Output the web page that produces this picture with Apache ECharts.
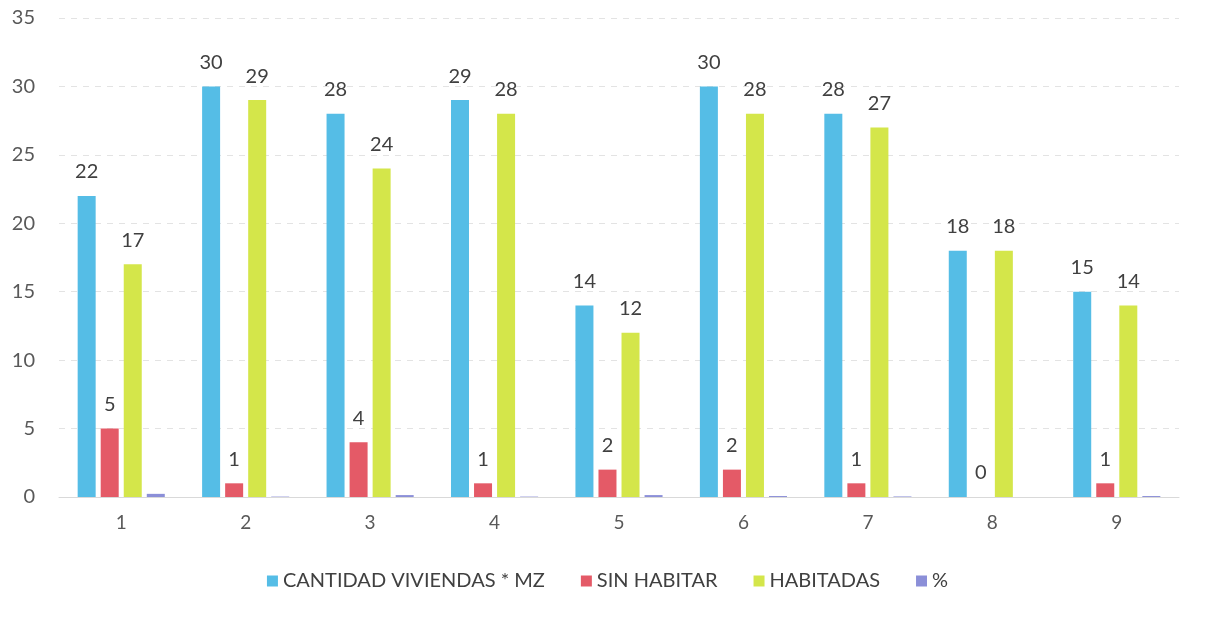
<!DOCTYPE html>
<html><head><meta charset="utf-8">
<script src="https://cdn.jsdelivr.net/npm/echarts@6/dist/echarts.min.js"></script>
<style>html,body{margin:0;padding:0;background:#fff}#c{width:1215px;height:621px}</style>
</head><body><div id="c"></div>
<script>
const categories = ['1','2','3','4','5','6','7','8','9'];
const cantidad = [22,30,28,29,14,30,28,18,15];
const sinHabitar = [5,1,4,1,2,2,1,0,1];
const habitadas = [17,29,24,28,12,28,27,18,14];
const porcentaje = [0.23,0.03,0.14,0.03,0.14,0.07,0.04,0,0.07];
const yTicks = [0,5,10,15,20,25,30,35];

const chart = echarts.init(document.getElementById('c'));
const font = 'Lato, "Open Sans", sans-serif';
const lbl = {show:true, position:'top', color:'#404040', fontSize:20, fontFamily:font, distance:14};
chart.setOption({
  animation:false,
  textStyle:{fontFamily:font},
  grid:{left:59, right:36, top:18, bottom:124},
  legend:{bottom:25, left:'center', icon:'rect', itemWidth:11, itemHeight:11, itemGap:36,
    textStyle:{color:'#404040', fontSize:20, fontFamily:font},
    data:['CANTIDAD VIVIENDAS * MZ','SIN HABITAR','HABITADAS','%']},
  xAxis:{type:'category', data:categories,
    axisLine:{lineStyle:{color:'#d9d9d9'}}, axisTick:{show:false},
    axisLabel:{color:'#595959', fontSize:19, margin:16, fontFamily:font}},
  yAxis:{type:'value', min:0, max:35, interval:5,
    axisLabel:{color:'#595959', fontSize:20, margin:24, fontFamily:font,
      formatter:v=>yTicks.includes(v)?String(v):''},
    splitLine:{lineStyle:{color:'#e3e3e3', type:[6,6]}}},
  series:[
    {name:'CANTIDAD VIVIENDAS * MZ', type:'bar', data:cantidad, barWidth:18, barGap:'28%', barCategoryGap:'30%',
      itemStyle:{color:'#55bde6'}, label:lbl},
    {name:'SIN HABITAR', type:'bar', data:sinHabitar, barWidth:18,
      itemStyle:{color:'#e45a67'}, label:lbl},
    {name:'HABITADAS', type:'bar', data:habitadas, barWidth:18,
      itemStyle:{color:'#d4e64a'}, label:lbl},
    {name:'%', type:'bar', data:porcentaje, barWidth:18,
      itemStyle:{color:'#8b8fd8'}}
  ]
});
</script></body></html>
